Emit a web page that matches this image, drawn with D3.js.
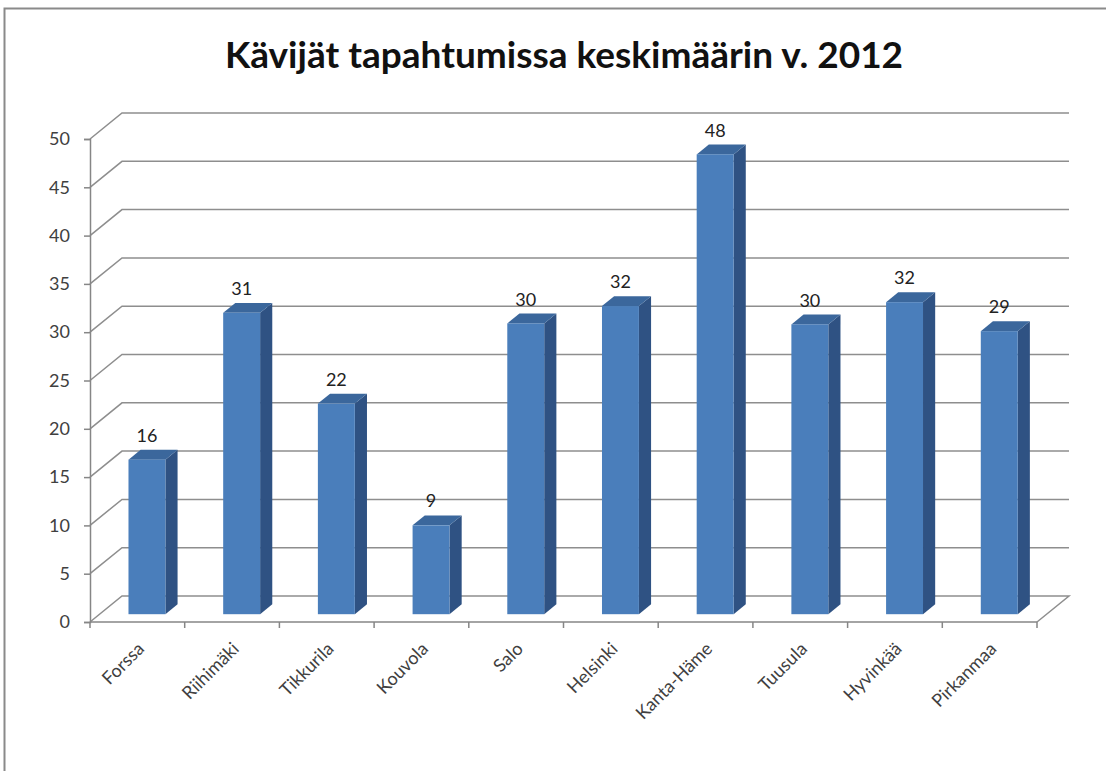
<!DOCTYPE html>
<html>
<head>
<meta charset="utf-8">
<script src="https://cdn.jsdelivr.net/npm/d3@7"></script>
<style>
  body { margin: 0; background: #fff; }
  svg text { font-family: "Lato", "Liberation Sans", sans-serif; }
</style>
</head>
<body>
<div id="chart"></div>
<script>
var chartTitle = "Kävijät tapahtumissa keskimäärin v. 2012";
var categories = ["Forssa", "Riihimäki", "Tikkurila", "Kouvola", "Salo", "Helsinki", "Kanta-Häme", "Tuusula", "Hyvinkää", "Pirkanmaa"];
var values = [16.0, 31.2, 21.8, 9.2, 30.1, 31.9, 47.6, 30.0, 32.3, 29.3];
var yTicks = [0, 5, 10, 15, 20, 25, 30, 35, 40, 45, 50];

var col = {
    front: "#4a7ebb",
    side: "#2f5283",
    top: "#3b679c",
    grid: "#8e8e8e",
    axis: "#868686",
    text: "#404040"
  };

var W = 1106, H = 771;
// 3d depth of the walls
var depthX = 32, depthY = -26;
var z0 = 0.3, z1 = 0.68;

var svg = d3.select("#chart").append("svg")
    .attr("width", W)
    .attr("height", H);

// outer frame
svg.append("rect")
    .attr("x", 4.5).attr("y", 8.5)
    .attr("width", W + 20).attr("height", H + 20)
    .attr("fill", "none")
    .attr("stroke", "#8a8a8a")
    .attr("stroke-width", 2);

svg.append("text")
    .attr("x", 564)
    .attr("y", 68)
    .attr("text-anchor", "middle")
    .attr("font-size", "37px")
    .attr("font-weight", "bold")
    .attr("fill", "#111")
    .text(chartTitle);

var x = d3.scaleBand()
    .domain(categories)
    .range([90, 1037])
    .paddingInner(0.61)
    .paddingOuter(0.305);

var y = d3.scaleLinear()
    .domain([0, 50])
    .range([622, 139]);

function px(xv, z) { return xv + z * depthX; }
function py(yv, z) { return yv + z * depthY; }

var x0 = x.range()[0], x1 = x.range()[1];

// back wall gridlines with the side-wall diagonal
svg.append("g").selectAll("path")
    .data(yTicks.filter(function(d){ return d > 0; }))
    .join("path")
    .attr("fill", "none")
    .attr("stroke", col.grid)
    .attr("stroke-width", 1.5)
    .attr("d", function(d) {
        return "M" + x0 + "," + y(d) + "L" + px(x0, 1) + "," + py(y(d), 1) + "L" + px(x1, 1) + "," + py(y(d), 1);
    });

// floor
svg.append("path")
    .attr("fill", "none")
    .attr("stroke", col.grid)
    .attr("stroke-width", 1.5)
    .attr("d", "M" + x0 + "," + y(0) + "L" + px(x0, 1) + "," + py(y(0), 1) +
        "L" + px(x1, 1) + "," + py(y(0), 1) + "L" + x1 + "," + y(0));

// y axis
var yAxis = svg.append("g")
    .attr("transform", "translate(" + x0 + ",0)")
    .call(d3.axisLeft(y).tickValues(yTicks).tickSize(6).tickPadding(14));
yAxis.select(".domain").attr("stroke", col.axis).attr("stroke-width", 1.5);
yAxis.selectAll(".tick line").attr("stroke", col.axis).attr("stroke-width", 1.5);
yAxis.selectAll(".tick text")
    .attr("font-size", "18px")
    .attr("fill", col.text)
    .attr("font-family", "Lato, sans-serif");

// x axis line and ticks on band boundaries
var xTickPos = categories.map(function(c, i){ return x0 + i * x.step(); }).concat([x1]);
svg.append("line")
    .attr("x1", x0).attr("x2", x1)
    .attr("y1", y(0)).attr("y2", y(0))
    .attr("stroke", col.axis).attr("stroke-width", 1.5);
svg.append("g").selectAll("line")
    .data(xTickPos)
    .join("line")
    .attr("x1", function(d){ return d; }).attr("x2", function(d){ return d; })
    .attr("y1", y(0)).attr("y2", y(0) + 6)
    .attr("stroke", col.axis).attr("stroke-width", 1.5);

// bars
var bars = svg.append("g").selectAll("g")
    .data(categories.map(function(c, i){ return {cat: c, val: values[i]}; }))
    .join("g");

function poly(pts) {
    return pts.map(function(p){ return p[0] + "," + p[1]; }).join(" ");
}

bars.each(function(d) {
    var g = d3.select(this);
    var bx = x(d.cat), bw = x.bandwidth();
    var yb = y(0), yt = y(d.val);
    var fl = px(bx, z0), fr = px(bx + bw, z0);
    var bl = px(bx, z1), br = px(bx + bw, z1);
    // right side
    g.append("polygon")
        .attr("fill", col.side)
        .attr("points", poly([[fr, py(yb, z0)], [fr, py(yt, z0)], [br, py(yt, z1)], [br, py(yb, z1)]]));
    // top
    g.append("polygon")
        .attr("fill", col.top)
        .attr("points", poly([[fl, py(yt, z0)], [fr, py(yt, z0)], [br, py(yt, z1)], [bl, py(yt, z1)]]));
    // front
    g.append("rect")
        .attr("fill", col.front)
        .attr("x", fl)
        .attr("y", py(yt, z0))
        .attr("width", bw)
        .attr("height", yb - yt);
    // value label
    g.append("text")
        .attr("x", fl + bw / 2)
        .attr("y", py(yt, z1) - 8)
        .attr("text-anchor", "middle")
        .attr("font-size", "18px")
        .attr("fill", "#222")
        .text(Math.round(d.val));
});

// category labels
svg.append("g").selectAll("text")
    .data(categories)
    .join("text")
    .attr("transform", function(d) {
        return "translate(" + (x(d) + x.bandwidth() / 2 + 8) + "," + (y(0) + 28) + ") rotate(-45)";
    })
    .attr("text-anchor", "end")
    .attr("font-size", "18px")
    .attr("fill", col.text)
    .text(function(d){ return d; });
</script>
</body>
</html>
